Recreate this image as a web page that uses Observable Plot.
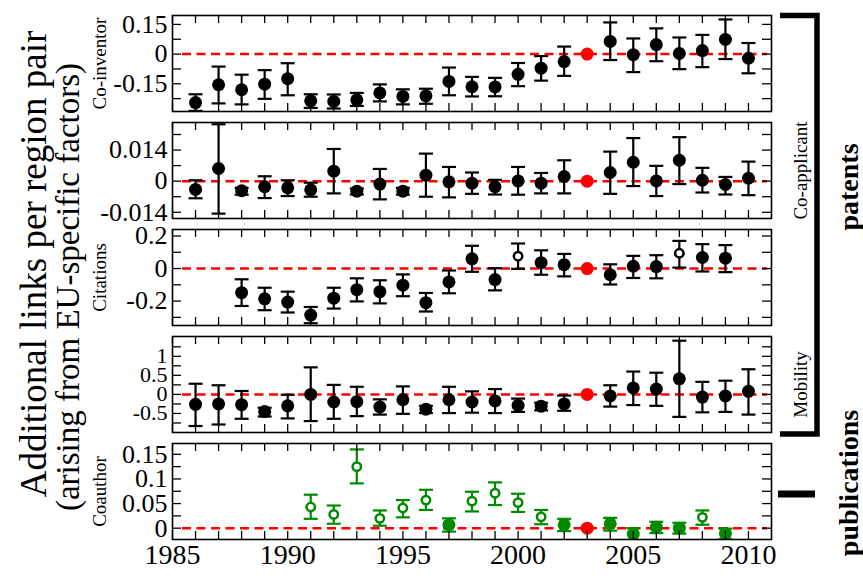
<!DOCTYPE html>
<html><head><meta charset="utf-8">
<script src="https://cdn.jsdelivr.net/npm/d3@7"></script>
<script src="https://cdn.jsdelivr.net/npm/@observablehq/plot@0.6"></script>
<style>
body{margin:0;background:#fff;}
#chart{position:relative;width:863px;height:576px;font-family:"Liberation Serif","DejaVu Serif",serif;}
#chart svg{position:absolute;left:0;overflow:visible;}
</style></head><body><div id="chart"></div><script>
// ---------- data ----------
const years = [1986,1987,1988,1989,1990,1991,1992,1993,1994,1995,1996,1997,1998,1999,2000,2001,2002,2003,2004,2005,2006,2007,2008,2009,2010];
const baseYear = 2003;
const xTickLabels = [1985,1990,1995,2000,2005,2010];

const coInventor   = [-0.245,-0.155,-0.18,-0.152,-0.124,-0.236,-0.239,-0.231,-0.196,-0.214,-0.211,-0.138,-0.165,-0.166,-0.102,-0.071,-0.038,0,0.064,-0.003,0.048,0.003,0.018,0.074,-0.021];
const coInventorLo = [-0.287,-0.249,-0.254,-0.226,-0.208,-0.272,-0.275,-0.262,-0.239,-0.254,-0.251,-0.208,-0.214,-0.213,-0.162,-0.134,-0.11,null,-0.03,-0.091,-0.036,-0.076,-0.066,-0.025,-0.097];
const coInventorHi = [-0.203,-0.063,-0.104,-0.081,-0.046,-0.203,-0.204,-0.196,-0.153,-0.178,-0.175,-0.068,-0.115,-0.12,-0.045,-0.01,0.038,null,0.16,0.079,0.13,0.084,0.097,0.175,0.056];

const coApplicant   = [-0.0037,0.0057,-0.0043,-0.0025,-0.003,-0.0039,0.0045,-0.0045,-0.0013,-0.0045,0.0027,-0.0003,-0.0009,-0.0025,0.0001,-0.0009,0.0021,0,0.0039,0.0085,0.0001,0.0094,0.0004,-0.0015,0.0013];
const coApplicantLo = [-0.0077,-0.0146,-0.0061,-0.0076,-0.0067,-0.007,-0.0055,-0.006,-0.0082,-0.0061,-0.007,-0.0073,-0.0057,-0.006,-0.0061,-0.0055,-0.0055,null,-0.0057,-0.0022,-0.0067,-0.0013,-0.0051,-0.006,-0.0063];
const coApplicantHi = [0.0004,0.0256,-0.003,0.0022,0.0004,-0.0007,0.0145,-0.0033,0.0055,-0.003,0.0124,0.0064,0.0039,0.0006,0.0064,0.0037,0.0094,null,0.0133,0.0194,0.0069,0.0198,0.006,0.0019,0.0088];

const citations   = [null,null,-0.148,-0.186,-0.206,-0.286,-0.182,-0.13,-0.142,-0.102,-0.21,-0.082,0.06,-0.068,0.076,0.036,0.024,0,-0.038,0.014,0.012,0.094,0.068,0.064,null];
const citationsLo = [null,null,-0.23,-0.256,-0.27,-0.336,-0.246,-0.202,-0.214,-0.17,-0.264,-0.152,-0.02,-0.134,-0.002,-0.038,-0.048,null,-0.098,-0.058,-0.06,0.006,-0.018,-0.022,null];
const citationsHi = [null,null,-0.066,-0.118,-0.142,-0.236,-0.118,-0.06,-0.072,-0.036,-0.15,-0.012,0.14,0.002,0.154,0.112,0.09,null,0.026,0.078,0.082,0.17,0.15,0.144,null];
const citationsOpen = [2000,2007];

const mobility   = [-0.26,-0.25,-0.27,-0.45,-0.30,0.0,-0.20,-0.19,-0.33,-0.14,-0.39,-0.14,-0.20,-0.17,-0.29,-0.31,-0.25,0,-0.04,0.17,0.14,0.41,-0.07,-0.04,0.08];
const mobilityLo = [-0.83,-0.79,-0.64,-0.58,-0.63,-0.70,-0.64,-0.57,-0.53,-0.51,-0.49,-0.49,-0.48,-0.49,-0.46,-0.42,-0.43,null,-0.32,-0.28,-0.30,-0.59,-0.47,-0.46,-0.53];
const mobilityHi = [0.28,0.24,0.09,-0.35,-0.01,0.71,0.25,0.20,-0.13,0.21,-0.30,0.20,0.08,0.14,-0.11,-0.22,-0.03,null,0.24,0.60,0.57,1.41,0.33,0.36,0.66];

const coauthor   = [null,null,null,null,null,0.043,0.028,0.125,0.020,0.041,0.057,0.007,0.055,0.071,0.052,0.023,0.007,0,0.009,-0.012,0.002,0.0,0.022,-0.011,null];
const coauthorLo = [null,null,null,null,null,0.019,0.009,0.091,0.005,0.022,0.037,-0.007,0.034,0.047,0.033,0.008,-0.006,null,-0.005,-0.026,-0.01,-0.011,0.007,-0.022,null];
const coauthorHi = [null,null,null,null,null,0.068,0.046,0.16,0.036,0.057,0.078,0.020,0.074,0.093,0.070,0.037,0.019,null,0.021,0.0,0.013,0.011,0.036,-0.001,null];
const coauthorOpen = [1991,1992,1993,1994,1995,1996,1998,1999,2000,2001,2008];

const panelNames = ["Co-inventor","Co-applicant","Citations","Mobility","Coauthor"];
const tickLabels = [[-0.15,0,0.15],[-0.014,0,0.014],[-0.2,0,0.2],[-0.5,0,0.5,1],[0,0.05,0.1,0.15]];
const minorTicks = [[-0.225,-0.075,0.075],[-0.007,0.007,0.021],[-0.3,-0.1,0.1],[-0.75,-0.25,0.25,0.75,1.25],[0.025,0.075,0.125]];

// ---------- layout ----------
const W = 863, FL = 172, FR = 771, FW = FR - FL, PH = 96;
const tops = [15,122,229,336,443];
const domains = [[-0.29,0.195],[-0.0168,0.0264],[-0.35,0.24],[-1.0,1.52],[-0.023,0.172]];
const tickFont = [26,26,26,22,26];
const sides = ["left","right","left","right","left"];
const colors = ["black","black","black","black","#008a00"];
const series = [
  [coInventor,coInventorLo,coInventorHi,[]],
  [coApplicant,coApplicantLo,coApplicantHi,[]],
  [citations,citationsLo,citationsHi,citationsOpen],
  [mobility,mobilityLo,mobilityHi,[]],
  [coauthor,coauthorLo,coauthorHi,coauthorOpen]
];
const font = '"Liberation Serif","DejaVu Serif",serif';
const cap = {draw(ctx, size){ const w = Math.sqrt(size/Math.PI); ctx.moveTo(-w,0); ctx.lineTo(w,0); }};

const chart = document.getElementById("chart");

series.forEach(([vals, lo, hi, open], p) => {
  const rows = years.map((year,i)=>({year, v: vals[i], lo: lo[i], hi: hi[i], open: open.includes(years[i])}))
                    .filter(d => d.v != null);
  const bars = rows.filter(d => d.year !== baseYear && d.lo != null);
  const filled = bars.filter(d => !d.open);
  const hollow = bars.filter(d => d.open);
  const base = rows.filter(d => d.year === baseYear);
  const color = colors[p];
  const last = p === series.length - 1;
  const mt = 14, mb = last ? 44 : 14;
  const allY = tickLabels[p].concat(minorTicks[p]);
  const marks = [
    Plot.ruleY([0], {stroke:"red", strokeWidth:2.5, strokeDasharray:"9,5.5", insetLeft:10, insetRight:4}),
    Plot.ruleX(bars, {x:"year", y1:"lo", y2:"hi", stroke:color, strokeWidth:2.2, clip:true}),
    Plot.dot(bars, {x:"year", y:"lo", symbol:cap, r:7, stroke:color, strokeWidth:2.2, fill:"none", clip:true}),
    Plot.dot(bars, {x:"year", y:"hi", symbol:cap, r:7, stroke:color, strokeWidth:2.2, fill:"none", clip:true}),
    Plot.dot(filled, {x:"year", y:"v", r:6.5, fill:color, stroke:"none", clip:true}),
    Plot.dot(hollow, {x:"year", y:"v", r:4.2, fill:"white", stroke:color, strokeWidth:2.5, clip:true}),
    Plot.dot(base, {x:"year", y:"v", r:6.5, fill:"red", stroke:"none"}),
    Plot.tickY(allY, {y:d=>d, insetRight: FW - 9, stroke:"black", strokeWidth:1.3}),
    Plot.tickY(allY, {y:d=>d, insetLeft: FW - 9, stroke:"black", strokeWidth:1.3}),
    Plot.tickX(years.concat([1985]), {x:d=>d, insetBottom: PH - 8, stroke:"black", strokeWidth:1.3}),
    Plot.tickX(years.concat([1985]), {x:d=>d, insetTop: PH - 8, stroke:"black", strokeWidth:1.3}),
    Plot.frame({stroke:"black", strokeWidth:1.6}),
    Plot.axisY({ticks: tickLabels[p], tickSize:0, tickPadding:5, tickFormat:d=>String(d), fontSize:tickFont[p], label:null}),
    Plot.text([panelNames[p]], {frameAnchor: sides[p], textAnchor:"middle", lineAnchor:"middle", dx: sides[p]==="left" ? -73 : 29, rotate:-90, fontSize:19, fill:"black"})
  ];
  if (last) marks.push(Plot.axisX({ticks: xTickLabels, tickSize:0, tickPadding:5, tickFormat:d=>String(d), fontSize:28, label:null}));
  const plot = Plot.plot({
    width: W, height: PH + mt + mb,
    marginLeft: FL, marginRight: W - FR, marginTop: mt, marginBottom: mb,
    x: {domain:[1985,2011], axis: last ? undefined : null},
    y: {domain: domains[p]},
    style: {fontFamily: font, fontSize: "26px", background: "transparent", overflow: "visible"},
    marks
  });
  plot.style.top = (tops[p] - mt) + "px";
  chart.appendChild(plot);
});

// ---------- overlay: title and brackets ----------
const svg = d3.select(chart).append("svg").attr("width", W).attr("height", 576).style("top","0px")
  .style("font-family", font).style("pointer-events","none");
const titleLines = [["Additional links per region pair",33,264,37],["(arising from EU-specific factors)",68,287,33]];
svg.selectAll("text.title").data(titleLines).join("text")
  .attr("transform", d => `translate(${d[1]},${d[2]}) rotate(-90)`)
  .attr("text-anchor","middle").attr("dominant-baseline","central")
  .attr("font-size", d => d[3]).text(d => d[0]);
svg.append("path").attr("d", `M780,15.5H817V434H780`).attr("fill","none").attr("stroke","black").attr("stroke-width",5.5);
svg.append("line").attr("x1",778).attr("x2",815).attr("y1",494).attr("y2",494).attr("stroke","black").attr("stroke-width",7);
const groups = [["patents",187],["publications",483]];
svg.selectAll("text.grp").data(groups).join("text")
  .attr("transform", d => `translate(848,${d[1]}) rotate(-90)`)
  .attr("text-anchor","middle").attr("dominant-baseline","central")
  .attr("font-size", 28).attr("font-weight","bold").text(d => d[0]);
</script></body></html>
